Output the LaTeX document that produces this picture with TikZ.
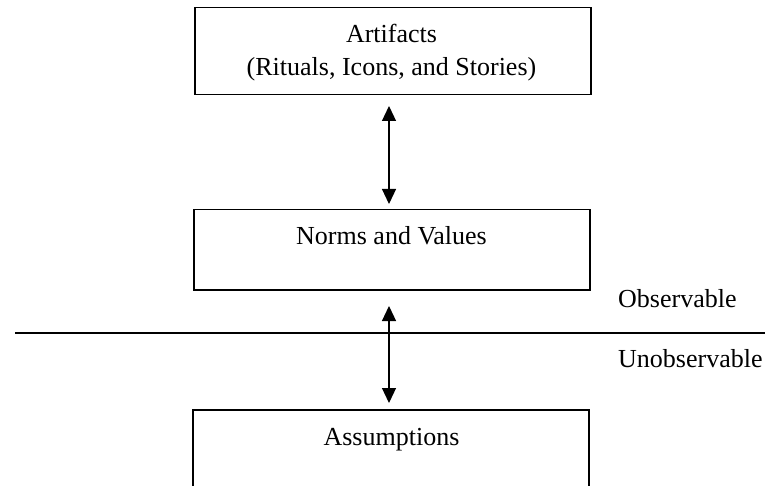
\documentclass[tikz,border=0pt]{standalone}
\usepackage{fontspec}
\setmainfont{Liberation Serif}
\usetikzlibrary{arrows.meta}
\begin{document}
\begin{tikzpicture}[x=1pt,y=-1pt,
  box/.style={draw, line width=1.5pt, inner sep=0pt, minimum width=396pt, anchor=north west},
  lbl/.style={font=\fontsize{26}{33}\selectfont, inner sep=0pt, anchor=base, align=center},
  side/.style={font=\fontsize{26}{33}\selectfont, inner sep=0pt, anchor=base west},
  dbl/.style={{Triangle[width=14pt,length=15pt]}-{Triangle[width=14pt,length=15pt]}, line width=1.2pt}]
\useasboundingbox (0,0) rectangle (765,486);
\clip (0,0) rectangle (765,486);
% boxes
\node[box, minimum height=87pt] (artifacts) at (194,7) {};
\node[box, minimum height=80pt] (norms) at (193,209) {};
\coordinate (aNW) at (193,500);
\coordinate (aTL) at (193,410);
\coordinate (aTR) at (589,410);
\coordinate (aNE) at (589,500);
\draw[line width=1.5pt] (aNW) -- (aTL) -- (aTR) -- (aNE);
% texts
\node[lbl, anchor=center] (t1) at (391.5,53) {Artifacts\\(Rituals, Icons, and Stories)};
\node[lbl] (t2) at (391.5,244) {Norms and Values};
\node[lbl] (t3) at (391.5,445) {Assumptions};
\node[side] (obs) at (618,307) {Observable};
\node[side] (unobs) at (618,367) {Unobservable};
% divider
\coordinate (dL) at (15,333);
\coordinate (dR) at (765,333);
\draw[line width=1.5pt] (dL) -- (dR);
% arrows
\coordinate (a1) at (389,106);
\coordinate (a2) at (389,204);
\coordinate (a3) at (389,306);
\coordinate (a4) at (389,403);
\draw[dbl] (a1) -- (a2);
\draw[dbl] (a3) -- (a4);
\end{tikzpicture}
\end{document}
